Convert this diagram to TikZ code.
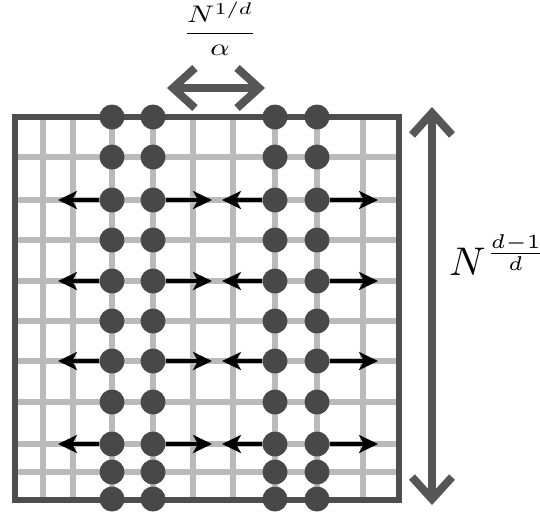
\documentclass[tikz,border=0pt]{standalone}
\usepackage{graphicx}
\usepackage{amsmath, amssymb}
\usepackage{xcolor}
\usetikzlibrary{arrows.meta}
\definecolor{gridGray}{RGB}{186,186,186}
\definecolor{frameGray}{RGB}{78,78,78}
\definecolor{dotGray}{RGB}{72,72,72}
\definecolor{spanGray}{RGB}{86,86,86}

\begin{document}
\begin{tikzpicture}[x=1pt, y=-1pt,
    site/.style={circle, fill=dotGray, inner sep=0pt, minimum size=25pt},
    flow/.style={-{Stealth[length=19pt, width=18pt, inset=5pt]}, line width=3.2pt, black},
    span/.style={{Straight Barb[length=22pt, width=40pt]}-{Straight Barb[length=22pt, width=40pt]}, line width=8pt, spanGray}]
        \useasboundingbox (0,0) rectangle (540,515);
        \foreach \x in {43,73,112,153,193,233,275,317,363}{
          \draw[gridGray, line width=6pt] (\x,117) -- (\x,500);
        }
        \foreach \y in {157,200,240,281,321,361,402,444,472}{
          \draw[gridGray, line width=6pt] (15,\y) -- (399,\y);
        }
        \draw[frameGray, line width=6pt] (15,117) rectangle (399,500);
        \foreach \c/\x in {1/112,2/153,3/275,4/317}{
          \foreach \r/\y in {1/117,2/157,3/200,4/240,5/281,6/321,7/361,8/402,9/444,10/472,11/499}{
            \node[site] (p-\c-\r) at (\x,\y) {};
          }
        }
        \foreach \r/\y in {3/200,5/281,7/361,9/444}{
          \coordinate (tipA-\r) at (58,\y);
          \coordinate (tipB-\r) at (212,\y);
          \coordinate (tipC-\r) at (222,\y);
          \coordinate (tipD-\r) at (378,\y);
          \draw[flow] (p-1-\r) -- (tipA-\r);
          \draw[flow] (p-2-\r) -- (tipB-\r);
          \draw[flow] (p-3-\r) -- (tipC-\r);
          \draw[flow] (p-4-\r) -- (tipD-\r);
        }
        \coordinate (wleft) at (167,88);
        \coordinate (wright) at (265,88);
        \draw[span] (wleft) -- (wright);
        \coordinate (htop) at (432,107);
        \coordinate (hbot) at (432,505);
        \draw[span] (htop) -- (hbot);
        \node[anchor=base, inner sep=0pt] (wlabel) at (220,39) {\scalebox{3.0}[2.4]{$\dfrac{N^{1/d}}{\alpha}$}};
        \node[anchor=base west, inner sep=0pt] (hlabel) at (449,275) {\scalebox{4}{$N^{\frac{d-1}{d}}$}};
      \end{tikzpicture}
\end{document}
